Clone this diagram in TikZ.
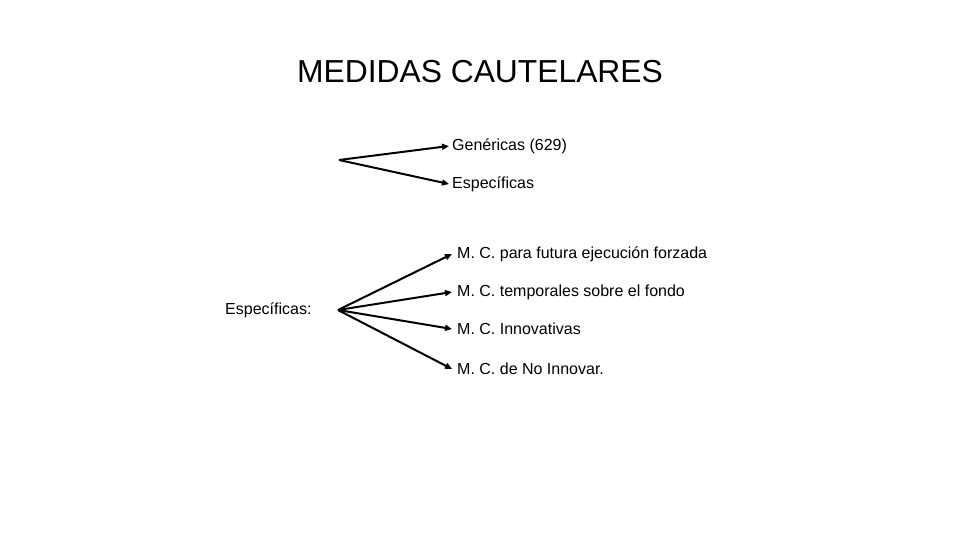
\documentclass[tikz,border=0pt]{standalone}
\usepackage{fontspec}
\setmainfont{Liberation Sans}
\usetikzlibrary{arrows.meta}
\begin{document}
\begin{tikzpicture}[x=1pt,y=-1pt,
  lbl/.style={anchor=west,inner sep=0pt,font=\fontsize{16}{19}\selectfont},
  arr/.style={line width=2pt,-{Triangle[length=7pt,width=6pt]}}]
\useasboundingbox (0,0) rectangle (960,540);
\node[inner sep=0pt,font=\fontsize{31.8}{36}\selectfont] (title) at (480,72) {MEDIDAS CAUTELARES};
% upper
\coordinate (o1) at (339,160);
\node[lbl] (gen) at (452,146) {Genéricas (629)};
\node[lbl] (esp1) at (452,184) {Específicas};
\draw[arr] (o1) -- ([xshift=-3pt]gen.west);
\draw[arr] (o1) -- ([xshift=-3pt]esp1.west);
% lower
\node[inner sep=0pt,anchor=west,font=\fontsize{16}{19}\selectfont] (esp2) at (225,310) {Específicas:};
\coordinate (o2) at (338,310);
\node[lbl] (m1) at (457,254) {M. C. para futura ejecución forzada};
\node[lbl] (m2) at (457,292) {M. C. temporales sobre el fondo};
\node[lbl] (m3) at (457,329) {M. C. Innovativas};
\node[lbl] (m4) at (457,369) {M. C. de No Innovar.};
\foreach \n in {m1,m2,m3,m4}
  \draw[arr] (o2) -- ([xshift=-5pt]\n.west);
\end{tikzpicture}
\end{document}
